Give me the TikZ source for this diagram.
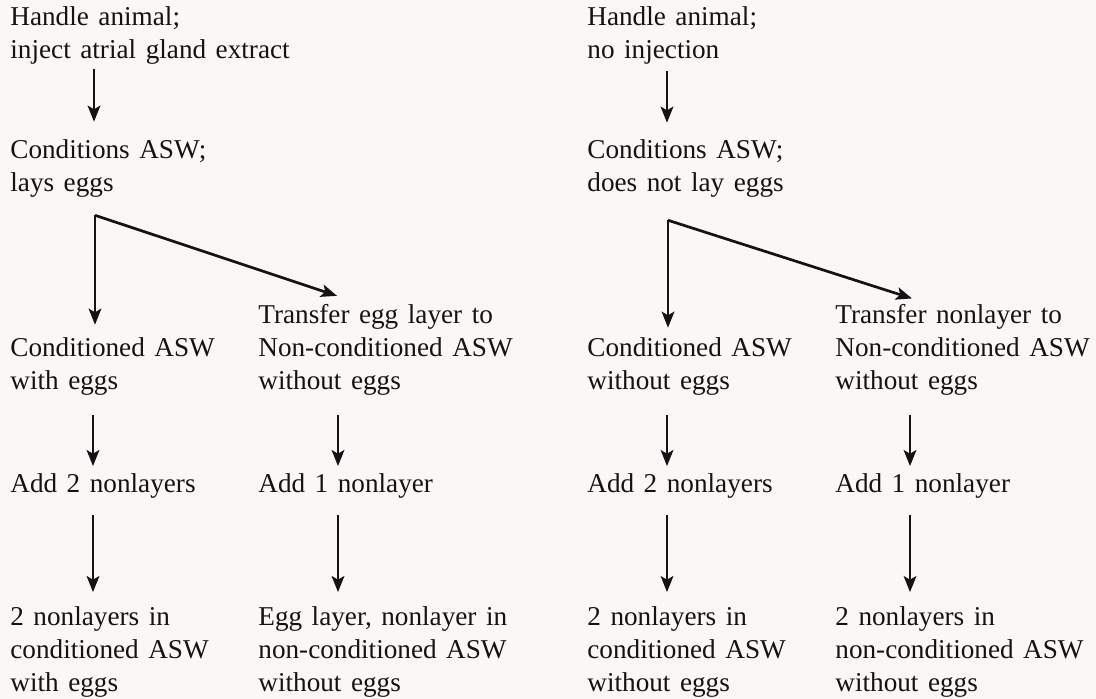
\documentclass[tikz,border=0pt]{standalone}
\usepackage{fontspec}
\setmainfont{Liberation Serif}[WordSpace=1.4]
\usepackage{xcolor}
\usetikzlibrary{arrows.meta}
\definecolor{paper}{RGB}{250,248,246}
\definecolor{ink}{RGB}{20,18,18}

\begin{document}
\begin{tikzpicture}[x=0.5pt, y=-0.5pt,
                    every node/.style={anchor=base west, align=left, inner sep=0pt, text=ink,
                                       font=\fontsize{13.6}{16.5}\selectfont},
                    flow/.style={draw=ink, line width=1.35pt,
                                 -{Stealth[length=8pt, width=6.3pt, inset=1.8pt]}}]
  \useasboundingbox (0,0) rectangle (1096,699);
  \fill[paper] (0,0) rectangle (1096,699);

  \node (handleA) at (10,59) {Handle animal;\\inject atrial gland extract};
  \node (condsA) at (10,192) {Conditions ASW;\\lays eggs};
  \node (keepA) at (10,390) {Conditioned ASW\\with eggs};
  \node (moveA) at (258,390) {Transfer egg layer to\\Non-conditioned ASW\\without eggs};
  \node (addA) at (10,492) {Add 2 nonlayers};
  \node (addAA) at (258,492) {Add 1 nonlayer};
  \node (endA) at (10,691) {2 nonlayers in\\conditioned ASW\\with eggs};
  \node (endAA) at (258,691) {Egg layer, nonlayer in\\non-conditioned ASW\\without eggs};

  \node (handleB) at (587,59) {Handle animal;\\no injection};
  \node (condsB) at (587,192) {Conditions ASW;\\does not lay eggs};
  \node (keepB) at (587,390) {Conditioned ASW\\without eggs};
  \node (moveB) at (835,390) {Transfer nonlayer to\\Non-conditioned ASW\\without eggs};
  \node (addB) at (587,492) {Add 2 nonlayers};
  \node (addBB) at (835,492) {Add 1 nonlayer};
  \node (endB) at (587,691) {2 nonlayers in\\conditioned ASW\\without eggs};
  \node (endBB) at (835,691) {2 nonlayers in\\non-conditioned ASW\\without eggs};

  \coordinate (forkA) at ([xshift=42.5pt,yshift=-8.5pt]condsA.south west);
  \coordinate (forkB) at ([xshift=40.5pt,yshift=-11pt]condsB.south west);

  \draw[flow] ([xshift=42pt,yshift=-2pt]handleA.south west) -- ([xshift=42pt,yshift=9pt]condsA.north west);
  \draw[flow] (forkA) -- ([xshift=42.5pt,yshift=6.5pt]keepA.north west);
  \draw[flow] (forkA) -- ([xshift=39.5pt,yshift=4.3pt]moveA.north west);
  \draw[flow] ([xshift=41.5pt,yshift=-9.5pt]keepA.south west) -- ([xshift=41.5pt,yshift=3.3pt]addA.north west);
  \draw[flow] ([xshift=40pt,yshift=-9.5pt]moveA.south west) -- ([xshift=40pt,yshift=3.3pt]addAA.north west);
  \draw[flow] ([xshift=41.5pt,yshift=-8.5pt]addA.south west) -- ([xshift=41.5pt,yshift=6.8pt]endA.north west);
  \draw[flow] ([xshift=40pt,yshift=-8.5pt]addAA.south west) -- ([xshift=40pt,yshift=6.8pt]endAA.north west);

  \draw[flow] ([xshift=40pt,yshift=-3pt]handleB.south west) -- ([xshift=40pt,yshift=8.5pt]condsB.north west);
  \draw[flow] (forkB) -- ([xshift=40.5pt,yshift=5pt]keepB.north west);
  \draw[flow] (forkB) -- ([xshift=38.5pt,yshift=3pt]moveB.north west);
  \draw[flow] ([xshift=40pt,yshift=-9.5pt]keepB.south west) -- ([xshift=40pt,yshift=3.3pt]addB.north west);
  \draw[flow] ([xshift=37.5pt,yshift=-9.5pt]moveB.south west) -- ([xshift=37.5pt,yshift=3.3pt]addBB.north west);
  \draw[flow] ([xshift=40pt,yshift=-8.5pt]addB.south west) -- ([xshift=40pt,yshift=6.8pt]endB.north west);
  \draw[flow] ([xshift=37.5pt,yshift=-8.5pt]addBB.south west) -- ([xshift=37.5pt,yshift=6.8pt]endBB.north west);
\end{tikzpicture}
\end{document}
